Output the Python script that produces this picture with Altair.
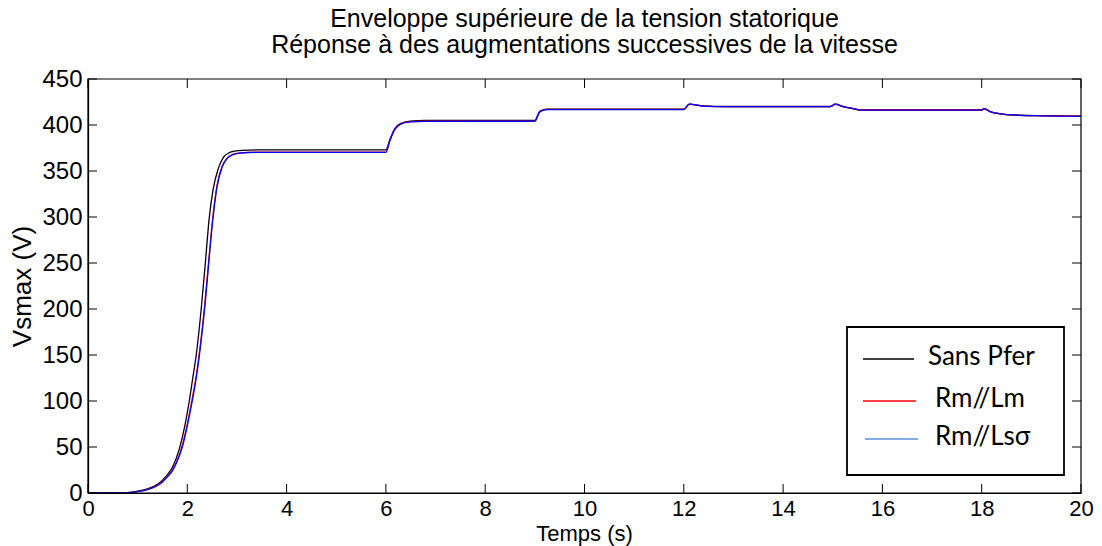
import altair as alt
import pandas as pd

# Sans Pfer (no iron losses)
black_t = [0, 0.5, 0.8, 1.0, 1.2, 1.4, 1.5, 1.6, 1.7, 1.84, 1.95, 2.04, 2.11, 2.18, 2.28, 2.36,
           2.44, 2.52, 2.62, 2.73, 2.85, 2.95, 3.12, 3.5, 6.0, 6.08, 6.18, 6.32, 6.49, 6.8,
           9.0, 9.1, 9.24, 12.0, 12.11, 12.39, 12.86, 14.95, 15.05, 15.21, 15.41, 15.55,
           18.0, 18.05, 18.17, 18.3, 18.5, 18.77, 19.2, 20.0]
black_v = [0, 0, 0.5, 2, 4.5, 9.5, 14, 20, 28, 48, 73, 100, 125, 150, 200, 248,
           298, 330, 352, 365, 370, 371.5, 372.5, 373, 373, 384, 396, 402.2, 404.3, 405,
           405, 414.8, 417.2, 417.2, 422.6, 420.7, 420.1, 420.1, 422.6, 420.1, 417.9, 416.4,
           416.4, 417.9, 414.6, 412.8, 411.3, 410.6, 410.1, 409.6]

# Rm//Lm
red_t = [0, 0.5, 0.8, 1.0, 1.2, 1.4, 1.5, 1.6, 1.7, 1.8, 1.9, 2.0, 2.1, 2.18, 2.26, 2.36,
         2.44, 2.52, 2.6, 2.7, 2.8, 2.92, 3.05, 3.25, 3.6, 6.0, 6.08, 6.18, 6.32, 6.49, 6.8,
         9.0, 9.1, 9.24, 12.0, 12.11, 12.39, 12.86, 14.95, 15.05, 15.21, 15.41, 15.55,
         18.0, 18.05, 18.17, 18.3, 18.5, 18.77, 19.2, 20.0]
red_v = [0, 0, 0.4, 1.6, 3.8, 8.5, 12.5, 18, 25, 36, 52, 75, 103, 128, 160, 210,
         258, 303, 335, 355, 364, 368, 369.5, 370.3, 370.5, 370.5, 383, 395.5, 401.8, 403.6, 404.2,
         404.3, 414.5, 417, 417, 422.5, 420.6, 420, 420, 422.5, 420, 417.8, 416.3,
         416.3, 417.8, 414.5, 412.7, 411.2, 410.5, 410, 409.5]

# Rm//Lsσ
blue_t = [0, 0.5, 0.8, 1.0, 1.2, 1.4, 1.5, 1.6, 1.7, 1.8, 1.9, 2.0, 2.1, 2.18, 2.26, 2.36,
          2.44, 2.52, 2.6, 2.7, 2.8, 2.92, 3.05, 3.25, 3.6, 6.0, 6.08, 6.18, 6.32, 6.49, 6.8,
          9.0, 9.1, 9.24, 12.0, 12.11, 12.39, 12.86, 14.95, 15.05, 15.21, 15.41, 15.55,
          18.0, 18.05, 18.17, 18.3, 18.5, 18.77, 19.2, 20.0]
blue_v = [0, 0, 0.4, 1.5, 3.6, 8.2, 12, 17.5, 24, 35, 50, 73, 100, 125, 157, 206,
          255, 300, 333, 354, 363.5, 367.8, 369.3, 370.1, 370.3, 370.3, 383, 395.5, 401.6, 403.4, 404,
          404.1, 414.3, 416.8, 416.8, 422.6, 420.6, 420, 420, 422.6, 420, 417.8, 416.2,
          416.2, 417.9, 414.6, 412.8, 411.3, 410.5, 410, 409.4]

x_ticks = list(range(0, 21, 2))
y_ticks = list(range(0, 451, 50))

series_names = ["Sans Pfer", "Rm//Lm", "Rm//Lsσ"]
line_colors = ["#000000", "#ff0000", "#0000ff"]
legend_colors = ["#000000", "#ff0000", "#5b8fd8"]

W, H = 993, 414
TICK = 9
FONT = "Liberation Sans"

x_scale = alt.Scale(domain=[0, 20], nice=False, zero=False)
y_scale = alt.Scale(domain=[0, 450], nice=False, zero=False)

x_axis = alt.Axis(values=x_ticks, ticks=False, grid=False, labelFont=FONT, labelFontSize=22,
                  labelColor="black", domainColor="black", domainWidth=1.2,
                  title=None, labelPadding=5, labelFlush=False)
y_axis = alt.Axis(values=y_ticks, ticks=False, grid=False, labelFont=FONT, labelFontSize=24,
                  labelColor="black", domainColor="black", domainWidth=1.2,
                  title="Vsmax (V)", titleFont=FONT, titleFontSize=26, titleFontWeight="normal",
                  titleColor="black", labelPadding=6, titlePadding=6, labelFlush=False)

X = alt.X("t:Q", scale=x_scale, axis=x_axis)
Y = alt.Y("v:Q", scale=y_scale, axis=y_axis)


def curve(t, v, color):
    df = pd.DataFrame({"t": t, "v": v})
    return alt.Chart(df).mark_line(color=color, strokeWidth=1.3, interpolate="monotone", clip=True).encode(
        x=X, y=Y)


lines = [
    curve(black_t, black_v, line_colors[0]),
    curve(red_t, red_v, line_colors[1]),
    curve(blue_t, blue_v, line_colors[2]),
]

# box frame and inward ticks on all four sides
one = pd.DataFrame({"k": [0]})
frame = alt.Chart(one).mark_rect(fill=None, stroke="black", strokeWidth=1.2).encode(
    x=alt.value(0), x2=alt.value(W), y=alt.value(0), y2=alt.value(H))

xt = pd.DataFrame({"t": x_ticks})
yt = pd.DataFrame({"v": y_ticks})
tick_layers = [
    alt.Chart(xt).mark_rule(color="black", strokeWidth=1).encode(
        x=X, y=alt.value(H), y2=alt.value(H - TICK)),
    alt.Chart(xt).mark_rule(color="black", strokeWidth=1).encode(
        x=X, y=alt.value(0), y2=alt.value(TICK)),
    alt.Chart(yt).mark_rule(color="black", strokeWidth=1).encode(
        y=Y, x=alt.value(0), x2=alt.value(TICK)),
    alt.Chart(yt).mark_rule(color="black", strokeWidth=1).encode(
        y=Y, x=alt.value(W), x2=alt.value(W - TICK)),
]

# x axis title placed just under the tick labels
x_title = alt.Chart(pd.DataFrame({"label": ["Temps (s)"]})).mark_text(
    font=FONT, fontSize=22, align="center", baseline="middle", color="black").encode(
    x=alt.value(W / 2), y=alt.value(H + 41), text="label:N")

# legend box drawn in pixel space of the plot area
legend_layers = [
    alt.Chart(one).mark_rect(fill="white", stroke="black", strokeWidth=1.8).encode(
        x=alt.value(759), x2=alt.value(976), y=alt.value(248), y2=alt.value(396))
]
entry_y = [280, 322, 360]
line_x = [(775, 826), (775, 828), (777, 830)]
text_x = [840, 847, 847]
for name, col, yy, (x0, x1), tx in zip(series_names, legend_colors, entry_y, line_x, text_x):
    legend_layers.append(
        alt.Chart(one).mark_rule(color=col, strokeWidth=1.6).encode(
            x=alt.value(x0), x2=alt.value(x1), y=alt.value(yy)))
    legend_layers.append(
        alt.Chart(pd.DataFrame({"label": [name]})).mark_text(
            font="Lato", fontSize=26, align="left", baseline="middle", color="black").encode(
            x=alt.value(tx), y=alt.value(yy - 2), text="label:N"))

chart = alt.layer(*lines, frame, *tick_layers, x_title, *legend_layers).properties(
    width=W, height=H,
    background="white",
    title=alt.TitleParams(
        text=["Enveloppe supérieure de la tension statorique",
              "Réponse à des augmentations successives de la vitesse"],
        font=FONT, fontSize=25, fontWeight="normal", color="black",
        anchor="middle", frame="group", offset=9, lineHeight=26),
    autosize=alt.AutoSizeParams(type="none"),
    padding={"left": 88, "top": 79, "right": 21, "bottom": 53},
).configure_view(stroke=None)

chart.save("out.html", embed_options={"renderer": "svg", "actions": False})
